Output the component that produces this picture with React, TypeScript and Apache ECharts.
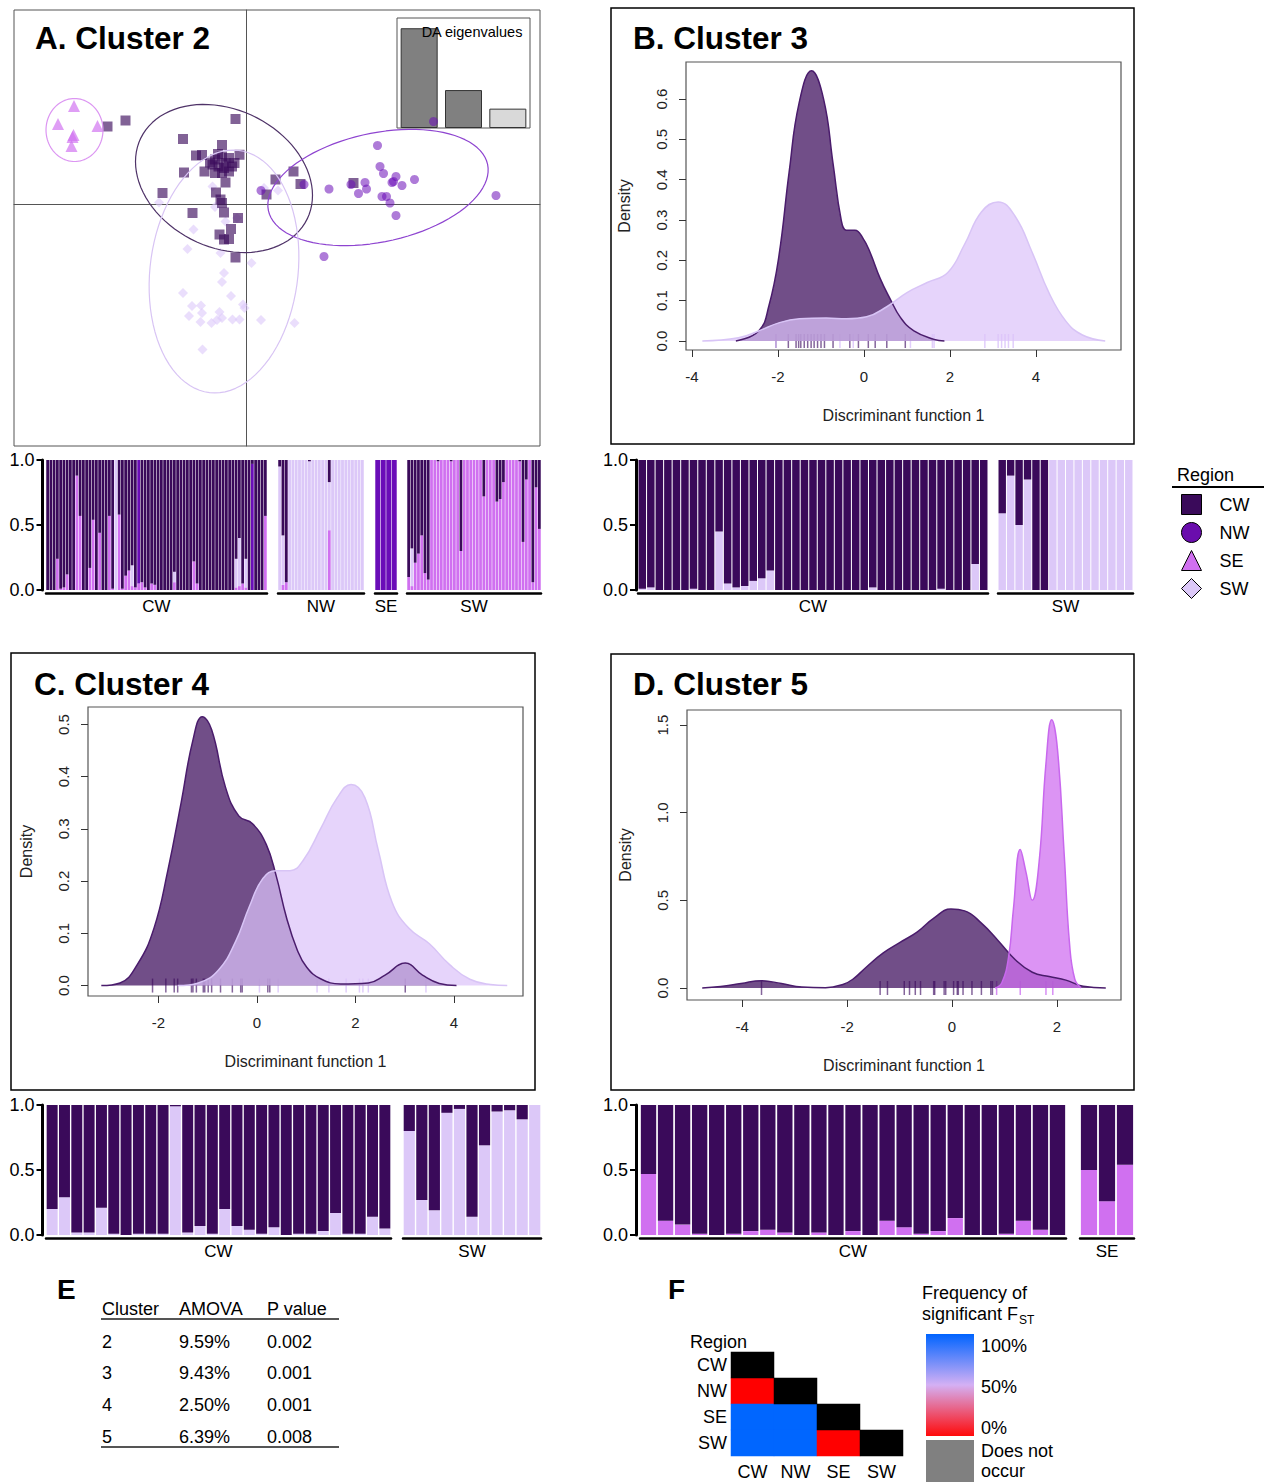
import React, { useEffect, useRef } from 'react';
import * as echarts from 'echarts';

const FONT = '"Liberation Sans", Arial, Helvetica, sans-serif';
const C_CW = '#3a0a5a';
const C_NW = '#6a0db8';
const C_SE = '#d070f0';
const C_SW = '#dcc8f8';

// ---------- Panel A: DAPC scatter (LD1, LD2) ----------
const aCW = [[-2.77,1.55],[-2.41,1.67],[-0.21,1.70],[-1.26,1.30],[-0.48,1.18],[-1.00,0.97],[-0.88,0.98],[-0.13,0.985],[-0.62,0.89],[-0.48,0.95],[-0.34,0.92],[-0.67,0.79],[-0.55,0.75],[-0.41,0.82],[-0.23,0.82],[-0.83,0.65],[-1.24,0.63],[-0.62,0.62],[-0.48,0.62],[-0.34,0.65],[-0.41,0.43],[-0.60,0.23],[-1.67,0.22],[-0.51,0.09],[-0.48,0.02],[-1.07,-0.18],[-0.44,-0.17],[-0.16,-0.28],[-0.30,-0.50],[-0.53,-0.61],[-0.44,-0.71],[-0.34,-0.70],[-0.21,-1.07],[0.59,0.49],[0.95,0.65],[1.09,0.40],[0.41,0.19],[2.15,0.42],[-0.72,0.83],[-0.28,0.75],[-0.56,1.0],[-0.44,0.72]];
const aNW = [[2.63,1.17],[2.68,0.75],[2.75,0.61],[3.00,0.55],[2.92,0.43],[3.12,0.37],[3.37,0.49],[2.38,0.43],[2.10,0.39],[2.41,0.30],[2.25,0.21],[1.66,0.30],[1.16,0.39],[0.30,0.27],[2.72,0.15],[2.81,0.15],[2.88,0.02],[3.00,-0.23],[1.56,-1.05],[5.00,0.17],[3.75,1.65],[2.95,0.45]];
const aSE = [[-3.44,1.96],[-3.76,1.60],[-2.97,1.56],[-3.45,1.38],[-3.47,1.34],[-3.49,1.16]];
const aSW = [[-1.74,0.03],[-0.67,0.35],[-0.62,-0.06],[-0.41,-0.35],[-1.05,-0.51],[-1.17,-0.90],[-0.51,-0.98],[0.11,-1.18],[-0.44,-1.38],[-0.48,-1.56],[0.64,0.27],[0.36,0.32],[-0.30,-1.84],[-1.26,-1.78],[-1.08,-2.04],[-0.90,-2.03],[-0.88,-2.18],[-0.06,-2.01],[-0.03,-2.08],[-0.53,-2.16],[-1.14,-2.24],[-0.48,-2.28],[-0.91,-2.36],[-0.69,-2.38],[-0.58,-2.32],[-0.27,-2.31],[-0.13,-2.31],[0.30,-2.32],[0.97,-2.38],[-0.87,-2.91],[-0.18,-0.28]];
// inertia ellipses: centre, semi-axes, rotation (deg)
const aEllipses = [
  { cx: -0.44, cy: 0.51, a: 1.85, b: 1.38, angle: -25.9, color: '#4f3368' },
  { cx: 2.64, cy: 0.33, a: 2.24, b: 1.09, angle: 11.9, color: '#8e44d0' },
  { cx: -3.43, cy: 1.48, a: 0.63, b: 0.57, angle: 90, color: '#dc96f2' },
  { cx: -0.44, cy: -1.35, a: 2.44, b: 1.48, angle: 83.2, color: '#d8c4f4' },
];
const daEigen = [52.6, 20.0, 10.2];

// ---------- Structure (membership) bars ----------
const aCWpink = [0,0,0,0.24,0.01,0.02,0.12,0,0,0.88, 0.57,0,0,0.17,0.54,0,0.44,0,0,0.57, 0.01,0,0.58,0.01,0.11,0.15,0.03,0.02,0.05,0.06, 0.02,0,0.05,0.04,0,0,0,0,0,0.06, 0,0,0,0,0,0.22,0.05,0,0,0, 0,0,0,0,0,0,0,0,0.02,0.03, 0.05,0.02,0,0,0,0,0,0.57];
const aCWlav = [0,0,0,0,0,0,0,0,0,0, 0,0,0,0,0,0,0,0,0,0, 0,1,0,0,0,0,0.16,0,0,0, 0,0,0,0,0,0,0,0,0,0.08, 0,0,0,0,0,0,0,0,0,0, 0,0,0,0,0,0,0,0,0.22,0.37, 0,0.22,0,0,0,0,0,0];
const aCWpur = [0,0,0,0,0,0,0,0,0,0, 0,0,0,0,0,0,0,0,0,0, 0,0,0,0,0,0,0,0,0.95,0, 0,0,0,0,0,0,0,0,0,0, 0,0,0,0,0,0,0,0,0,0, 0,0,0,0,0,0,0,0,0,0, 0,0,0,0.97,0,0,0,0];
const aNWpink = [0,0.04,0.06,0,0,0,0,0,0,0, 0,0,0,0,0,0.46,0,0,0,0, 0,0,0,0,0,0];
const aNWlav = [0.95,0.38,0,1,1,1,1,1,1,0.99, 1,1,1,1,1,0.37,1,1,1,1, 1,1,1,1,1,1];
const aSEpur = [1,1,1,1];
const aSWpink = [0.10,0.03,0.21,0.28,0.42,0.13,0.08,1,1,0.99, 1,1,1,0.99,1,1,0.30,1,1,1, 1,1,1,0.72,1,1,1,0.68,0.70,0.83, 1,1,1,1,0.99,0.37,0.85,1,0.06,0.79, 0.47];
const aSWlav = [0,0.29,0,0,0,0,0,0,0,0, 0,0,0,0,0,0,0,0,0,0, 0,0,0,0,0,0,0,0,0,0, 0,0,0,0,0,0,0,0,0,0, 0];
const bCWlav = [0.01,0.02,0,0,0,0,0.01,0,0,0.45, 0.05,0.02,0.03,0.07,0.09,0.15,0,0,0,0, 0,0,0,0,0,0,0,0.02,0,0, 0,0,0,0,0,0.01,0,0,0,0.20, 0];
const bSWlav = [0.59,0.88,0.50,0.85,0,0,1,1,1,1,1,1,1,1,1,1];
const cCWlav = [0.20,0.29,0.02,0.02,0.21,0.01,0,0.01,0.01,0.01,0.99,0.02,0.07,0.01,0.20,0.07,0.04,0.01,0.06,0,0.01,0.01,0.03,0.17,0.01,0.01,0.14,0.05];
const cSWlav = [0.80,0.27,0.19,0.94,0.97,0.14,0.69,0.95,0.96,0.89,1.0];
const dCWpink = [0.47,0.11,0.08,0.01,0,0.01,0.03,0.04,0.02,0,0.02,0,0.03,0,0.11,0.06,0.01,0.03,0.13,0,0,0.01,0.11,0.04,0];
const dSEpink = [0.50,0.26,0.54];

// ---------- Density curves (x, density) ----------
const bCW = [[-2.98,0],[-2.45,0.025],[-2.21,0.088],[-1.98,0.21],[-1.74,0.42],[-1.51,0.59],[-1.22,0.67],[-0.94,0.60],[-0.72,0.44],[-0.53,0.30],[-0.41,0.275],[-0.21,0.275],[-0.02,0.254],[0.14,0.22],[0.38,0.154],[0.61,0.104],[0.85,0.058],[1.16,0.025],[1.63,0.004],[1.87,0]];
const bSW = [[-3.76,0],[-2.92,0.008],[-2.45,0.025],[-1.98,0.045],[-1.5,0.055],[-0.88,0.057],[-0.41,0.055],[0.06,0.06],[0.53,0.085],[1.0,0.12],[1.47,0.145],[1.95,0.17],[2.34,0.24],[2.73,0.32],[3.12,0.345],[3.51,0.31],[3.91,0.22],[4.30,0.12],[4.69,0.05],[5.08,0.015],[5.61,0]];
const cCW = [[-3.16,0],[-2.78,0.005],[-2.43,0.04],[-2.09,0.11],[-1.81,0.22],[-1.54,0.35],[-1.30,0.47],[-1.11,0.515],[-0.92,0.49],[-0.64,0.38],[-0.37,0.325],[-0.09,0.31],[0.19,0.27],[0.39,0.21],[0.60,0.13],[0.81,0.07],[1.01,0.035],[1.29,0.013],[1.70,0.003],[2.26,0.005],[2.60,0.02],[3.01,0.043],[3.36,0.02],[3.70,0.004],[4.05,0]];
const cSW = [[-1.61,0],[-1.19,0.005],[-0.78,0.03],[-0.43,0.085],[-0.16,0.15],[0.12,0.205],[0.39,0.22],[0.67,0.22],[0.94,0.24],[1.29,0.30],[1.63,0.36],[1.91,0.385],[2.19,0.36],[2.46,0.26],[2.74,0.16],[3.08,0.11],[3.50,0.08],[3.91,0.04],[4.32,0.012],[4.74,0.002],[5.08,0]];
const dCW = [[-4.76,0],[-4.41,0.008],[-4.02,0.025],[-3.63,0.042],[-3.25,0.025],[-2.86,0.006],[-2.41,0.002],[-2.08,0.02],[-1.89,0.05],[-1.63,0.12],[-1.31,0.20],[-0.99,0.26],[-0.66,0.32],[-0.34,0.40],[-0.02,0.45],[0.24,0.44],[0.56,0.37],[0.88,0.27],[1.21,0.16],[1.53,0.09],[1.85,0.065],[2.17,0.045],[2.50,0.01],[2.93,0]];
const dSE = [[0.82,0],[0.95,0.03],[1.08,0.18],[1.17,0.45],[1.30,0.79],[1.41,0.66],[1.53,0.50],[1.66,0.72],[1.79,1.28],[1.90,1.53],[2.01,1.36],[2.14,0.75],[2.24,0.25],[2.34,0.05],[2.46,0]];
const bRugCW = [-2.05,-1.76,-1.58,-1.52,-1.47,-1.39,-1.31,-1.23,-1.16,-1.08,-1.0,-0.92,-0.72,-0.33,-0.13,0.1,0.26,0.53,0.96];
const bRugSW = [-2.05,-0.56,-0.25,1.08,1.59,1.63,2.81,3.12,3.2,3.28,3.36,3.47];
const cRugCW = [-2.12,-1.85,-1.68,-1.61,-1.33,-1.30,-1.23,-1.09,-1.06,-0.99,-0.92,-0.74,-0.50,-0.33,-0.30,0.22,0.26,3.01];
const cRugSW = [0.05,0.43,1.22,1.46,1.81,2.08,2.15,2.26,3.43];
const dRugCW = [-3.63,-1.37,-1.23,-0.91,-0.81,-0.70,-0.60,-0.35,-0.33,-0.15,-0.12,0.03,0.10,0.12,0.21,0.38,0.56,0.74,0.77];
const dRugSE = [0.85,1.30,1.79,1.92];
const bXTicks = [-4,-2,0,2,4];
const bYTicks = [0,0.1,0.2,0.3,0.4,0.5,0.6];
const cXTicks = [-2,0,2,4];
const cYTicks = [0,0.1,0.2,0.3,0.4,0.5];
const dXTicks = [-4,-2,0,2];
const dYTicks = [0,0.5,1.0,1.5];

// ---------- E table ----------
const eHeaders = ['Cluster','AMOVA','P value'];
const eCluster = ['2','3','4','5'];
const eAmova = ['9.59%','9.43%','2.50%','6.39%'];
const eP = ['0.002','0.001','0.001','0.008'];

// ---------- F heatmap ----------
const fRegions = ['CW','NW','SE','SW'];
const fPairs: [string,string,number][] = [['NW','CW',0],['SE','CW',1],['SE','NW',1],['SW','CW',1],['SW','NW',1],['SW','SE',0]];
const fLegendTicks = ['100%','50%','0%'];
const legendRegions = ['CW','NW','SE','SW'];

function ellipsePoints(e: any) {
  const pts: number[][] = [];
  const t = (e.angle * Math.PI) / 180;
  for (let k = 0; k <= 90; k++) {
    const u = (k / 90) * 2 * Math.PI;
    const x = e.a * Math.cos(u), y = e.b * Math.sin(u);
    pts.push([e.cx + x * Math.cos(t) - y * Math.sin(t), e.cy + x * Math.sin(t) + y * Math.cos(t)]);
  }
  return pts;
}

function buildOption() {
  const grid: any[] = [], xAxis: any[] = [], yAxis: any[] = [], series: any[] = [], graphic: any[] = [];
  const add = (g: any, xa: any, ya: any) => {
    grid.push(g);
    const i = grid.length - 1;
    xAxis.push({ ...xa, gridIndex: i });
    yAxis.push({ ...ya, gridIndex: i });
    return i;
  };
  const txt = (text: string, x: number, y: number, size: number, o: any = {}) => ({
    type: 'text', x, y, silent: true, z: o.z || 10,
    style: { text, fontSize: size, fontFamily: FONT, fill: o.fill || '#000', fontWeight: o.bold ? 'bold' : 'normal',
      textAlign: o.align || 'left', align: o.align || 'left', textVerticalAlign: 'middle', verticalAlign: 'middle' },
  });
  const hidden = { axisLine: { show: false }, axisTick: { show: false }, axisLabel: { show: false }, splitLine: { show: false } };

  // ---- Panel A scatter ----
  const crossAxis = { type: 'value', axisLine: { show: true, onZero: true, lineStyle: { color: '#555', width: 1 } }, axisTick: { show: false }, axisLabel: { show: false }, splitLine: { show: false } };
  const gA = add({ left: 14, top: 10, width: 526, height: 436, show: true, borderColor: '#555', borderWidth: 1 },
    { ...crossAxis, min: -4.64, max: 5.88 }, { ...crossAxis, min: -4.84, max: 3.88 });
  aEllipses.forEach((e, k) => series.push({ type: 'line', name: 'ell' + k, xAxisIndex: gA, yAxisIndex: gA, data: ellipsePoints(e), symbol: 'none', smooth: false, lineStyle: { color: e.color, width: 1.2 }, silent: true }));
  series.push({ type: 'scatter', name: 'SW', xAxisIndex: gA, yAxisIndex: gA, data: aSW, symbol: 'diamond', symbolSize: 10, itemStyle: { color: 'rgba(220,200,250,0.75)' } });
  series.push({ type: 'scatter', name: 'CW', xAxisIndex: gA, yAxisIndex: gA, data: aCW, symbol: 'rect', symbolSize: 10, itemStyle: { color: 'rgba(58,10,90,0.8)' } });
  series.push({ type: 'scatter', name: 'NW', xAxisIndex: gA, yAxisIndex: gA, data: aNW, symbol: 'circle', symbolSize: 9, itemStyle: { color: 'rgba(106,13,184,0.68)' } });
  series.push({ type: 'scatter', name: 'SE', xAxisIndex: gA, yAxisIndex: gA, data: aSE, symbol: 'triangle', symbolSize: 12, itemStyle: { color: 'rgba(208,112,240,0.85)' } });

  // inset eigenvalues
  const gI = add({ left: 397, top: 18, width: 133, height: 110, show: true, borderColor: '#555', borderWidth: 1 },
    { type: 'category', data: ['1','2','3'], ...hidden }, { type: 'value', min: 0, max: 58, ...hidden });
  series.push({ type: 'bar', name: 'eig', xAxisIndex: gI, yAxisIndex: gI, barWidth: 37, silent: true,
    data: daEigen.map((v, k) => ({ value: v, itemStyle: { color: k < 2 ? '#808080' : '#d9d9d9', borderColor: '#333', borderWidth: 1 } })) });
  graphic.push(txt('DA eigenvalues', 472, 32, 14.5, { align: 'center', z: 100 }));

  // ---- Structure groups ----
  const group = (left: number, right: number, top: number, bottom: number, label: string, layers: any[], showY: boolean, gap: string, axisX: number) => {
    const n = layers[0].data.length;
    const dark = Array.from({ length: n }, (_, k) => Math.max(0, 1 - layers.reduce((s: number, l: any) => s + l.data[k], 0)));
    const gi = add({ left, top, width: right - left, height: bottom - top },
      { type: 'category', data: Array.from({ length: n }, (_, k) => String(k + 1)), offset: 3,
        axisLine: { show: true, onZero: false, lineStyle: { color: '#000', width: 2.5 } }, axisTick: { show: false }, axisLabel: { show: false }, splitLine: { show: false },
        name: label, nameLocation: 'middle', nameGap: 5, nameTextStyle: { fontSize: 17, color: '#000', fontFamily: FONT, verticalAlign: 'top' } },
      { type: 'value', min: 0, max: 1, interval: 0.5, show: showY, offset: left - axisX,
        axisLine: { show: true, onZero: false, lineStyle: { color: '#000', width: 3 } }, axisTick: { show: true, length: 6, lineStyle: { color: '#000', width: 2 } },
        axisLabel: { fontSize: 18, color: '#000', margin: 8, fontFamily: FONT, formatter: (v: number) => v.toFixed(1) }, splitLine: { show: false } });
    [...layers, { data: dark, color: C_CW }].forEach((l: any, k: number) => series.push({
      type: 'bar', name: 'st' + gi + '_' + k, xAxisIndex: gi, yAxisIndex: gi, stack: 'st' + gi, data: l.data,
      barCategoryGap: gap, itemStyle: { color: l.color }, silent: true }));
  };
  group(46, 267, 460, 590, 'CW', [{ data: aCWpink, color: C_SE }, { data: aCWlav, color: C_SW }, { data: aCWpur, color: C_NW }], true, '16%', 42.5);
  group(278, 364, 460, 590, 'NW', [{ data: aNWpink, color: C_SE }, { data: aNWlav, color: C_SW }], false, '14%', 0);
  group(375, 397, 460, 590, 'SE', [{ data: aSEpur, color: C_NW }], false, '10%', 0);
  group(407, 541, 460, 590, 'SW', [{ data: aSWpink, color: C_SE }, { data: aSWlav, color: C_SW }], false, '16%', 0);
  group(638, 988, 460, 590, 'CW', [{ data: bCWlav, color: C_SW }], true, '12%', 636);
  group(998, 1133, 460, 590, 'SW', [{ data: bSWlav, color: C_SW }], false, '12%', 0);
  group(46, 391, 1105, 1235, 'CW', [{ data: cCWlav, color: C_SW }], true, '11%', 42.5);
  group(403, 541, 1105, 1235, 'SW', [{ data: cSWlav, color: C_SW }], false, '11%', 0);
  group(640, 1066, 1105, 1235, 'CW', [{ data: dCWpink, color: C_SE }], true, '10%', 636);
  group(1080, 1134, 1105, 1235, 'SE', [{ data: dSEpink, color: C_SE }], false, '10%', 0);

  // ---- Density panels ----
  const density = (p: any) => {
    const tickStyle = { color: '#333', width: 1 };
    const gi = add({ left: p.left, top: p.top, width: p.w, height: p.h, show: true, borderColor: '#555', borderWidth: 1.2 },
      { type: 'value', min: p.xmin, max: p.xmax, axisLine: { show: false, onZero: false },
        axisTick: { show: true, length: 7, customValues: p.xticks, lineStyle: tickStyle },
        axisLabel: { customValues: p.xticks, fontSize: 15, color: '#222', margin: 19, fontFamily: FONT, formatter: (v: number) => String(v) },
        splitLine: { show: false }, name: 'Discriminant function 1', nameLocation: 'middle', nameGap: 57,
        nameTextStyle: { fontSize: 16, color: '#222', fontFamily: FONT } },
      { type: 'value', min: p.ymin, max: p.ymax, axisLine: { show: false, onZero: false },
        axisTick: { show: true, length: 7, customValues: p.yticks, lineStyle: tickStyle },
        axisLabel: { customValues: p.yticks, rotate: 90, fontSize: 15, color: '#222', margin: 17, fontFamily: FONT, formatter: (v: number) => v.toFixed(1) },
        splitLine: { show: false }, name: 'Density', nameLocation: 'middle', nameGap: 54, nameRotate: 90,
        nameTextStyle: { fontSize: 16, color: '#222', fontFamily: FONT } });
    p.curves.forEach((c: any, k: number) => series.push({ type: 'line', name: 'd' + gi + '_' + k, xAxisIndex: gi, yAxisIndex: gi, data: c.data,
      smooth: 0.45, symbol: 'none', silent: true, lineStyle: { color: c.line, width: 1.5 }, areaStyle: { color: c.fill, opacity: 1 } }));
    p.rugs.forEach((r: any, k: number) => series.push({ type: 'scatter', name: 'r' + gi + '_' + k, xAxisIndex: gi, yAxisIndex: gi,
      data: r.data.map((x: number) => [x, 0]), symbol: 'rect', symbolSize: [1.5, 14], itemStyle: { color: r.color }, silent: true }));
  };
  const fCW = { line: '#4a1c6c', fill: 'rgba(58,10,90,0.72)' };
  const fSW = { line: '#d8c4f6', fill: 'rgba(220,196,250,0.72)' };
  const fSE = { line: '#c868ee', fill: 'rgba(208,112,240,0.75)' };
  const rCW = 'rgba(74,28,108,0.85)', rSW = 'rgba(215,190,250,0.95)', rSE = 'rgba(200,100,240,0.9)';
  density({ left: 686, top: 62, w: 435, h: 288, xmin: -4.14, xmax: 5.977, ymin: -0.0223, ymax: 0.692, xticks: bXTicks, yticks: bYTicks,
    curves: [{ data: bCW, ...fCW }, { data: bSW, ...fSW }], rugs: [{ data: bRugCW, color: rCW }, { data: bRugSW, color: rSW }] });
  density({ left: 88, top: 707, w: 435, h: 289, xmin: -3.43, xmax: 5.40, ymin: -0.020, ymax: 0.5335, xticks: cXTicks, yticks: cYTicks,
    curves: [{ data: cCW, ...fCW }, { data: cSW, ...fSW }], rugs: [{ data: cRugCW, color: rCW }, { data: cRugSW, color: rSW }] });
  density({ left: 687, top: 710, w: 434, h: 290, xmin: -5.05, xmax: 3.22, ymin: -0.0685, ymax: 1.586, xticks: dXTicks, yticks: dYTicks,
    curves: [{ data: dCW, ...fCW }, { data: dSE, ...fSE }], rugs: [{ data: dRugCW, color: rCW }, { data: dRugSE, color: rSE }] });

  // ---- F heatmap ----
  const gF = add({ left: 731, top: 1352, width: 172, height: 104 },
    { type: 'category', data: fRegions, axisLine: { show: false }, axisTick: { show: false }, splitLine: { show: false },
      axisLabel: { fontSize: 18, color: '#000', margin: 7, fontFamily: FONT } },
    { type: 'category', data: fRegions, inverse: true, axisLine: { show: false }, axisTick: { show: false }, splitLine: { show: false },
      axisLabel: { fontSize: 18, color: '#000', margin: 4, fontFamily: FONT } });
  const heatIdx = series.length;
  series.push({ type: 'heatmap', name: 'fst', xAxisIndex: gF, yAxisIndex: gF, silent: true,
    data: fPairs.map(([r, c, v]) => [fRegions.indexOf(c), fRegions.indexOf(r), v]) });
  const diagIdx = series.length;
  series.push({ type: 'heatmap', name: 'self', xAxisIndex: gF, yAxisIndex: gF, silent: true,
    data: fRegions.map((_, k) => [k, k, 0]) });

  // ---- graphic: titles, frames, legend, table ----
  graphic.push({ type: 'rect', shape: { x: 611, y: 8, width: 523, height: 436 }, style: { fill: 'none', stroke: '#000', lineWidth: 1.5 }, silent: true });
  graphic.push({ type: 'rect', shape: { x: 11, y: 653, width: 524, height: 437 }, style: { fill: 'none', stroke: '#000', lineWidth: 1.5 }, silent: true });
  graphic.push({ type: 'rect', shape: { x: 611, y: 654, width: 523, height: 436 }, style: { fill: 'none', stroke: '#000', lineWidth: 1.5 }, silent: true });
  graphic.push(txt('A. Cluster 2', 35, 38, 31.5, { bold: true }));
  graphic.push(txt('B. Cluster 3', 633, 38, 31.5, { bold: true }));
  graphic.push(txt('C. Cluster 4', 34, 684, 31.5, { bold: true }));
  graphic.push(txt('D. Cluster 5', 633, 684, 31.5, { bold: true }));

  graphic.push(txt('Region', 1177, 475, 18));
  graphic.push({ type: 'line', shape: { x1: 1172, y1: 487, x2: 1264, y2: 487 }, style: { stroke: '#000', lineWidth: 2 }, silent: true });

  graphic.push(txt('E', 57, 1289, 28, { bold: true }));
  const eCols = [102, 179, 267];
  eHeaders.forEach((h, k) => graphic.push(txt(h, eCols[k], 1309, 18)));
  graphic.push({ type: 'line', shape: { x1: 101, y1: 1319, x2: 339, y2: 1319 }, style: { stroke: '#555', lineWidth: 2 }, silent: true });
  const eRowsY = [1342, 1373, 1405, 1437];
  eCluster.forEach((c, k) => {
    graphic.push(txt(c, eCols[0], eRowsY[k], 18));
    graphic.push(txt(eAmova[k], eCols[1], eRowsY[k], 18));
    graphic.push(txt(eP[k], eCols[2], eRowsY[k], 18));
  });
  graphic.push({ type: 'line', shape: { x1: 101, y1: 1447, x2: 339, y2: 1447 }, style: { stroke: '#555', lineWidth: 2 }, silent: true });

  graphic.push(txt('F', 668, 1289, 28, { bold: true }));
  graphic.push(txt('Region', 690, 1342, 18));
  graphic.push(txt('Frequency of', 922, 1293, 18));
  graphic.push(txt('significant F', 922, 1314, 18));
  graphic.push(txt('ST', 1019, 1320, 12));
  graphic.push({ type: 'rect', shape: { x: 926, y: 1334, width: 48, height: 102 }, silent: true,
    style: { fill: new echarts.graphic.LinearGradient(0, 0, 0, 1, [{ offset: 0, color: '#0064ff' }, { offset: 0.5, color: '#d4b0f4' }, { offset: 1, color: '#ff0a0a' }]) } });
  graphic.push({ type: 'rect', shape: { x: 926, y: 1440, width: 48, height: 42 }, style: { fill: '#808080' }, silent: true });
  const fTickY = [1346, 1387, 1428];
  fLegendTicks.forEach((t, k) => graphic.push(txt(t, 981, fTickY[k], 18)));
  graphic.push(txt('Does not', 981, 1451, 18));
  graphic.push(txt('occur', 981, 1471, 18));

  const legendColors: any = { CW: C_CW, NW: '#6a0dad', SE: C_SE, SW: C_SW };
  const legendIcons: any = { CW: 'rect', NW: 'circle', SE: 'triangle', SW: 'diamond' };

  return {
    animation: false,
    backgroundColor: '#fff',
    textStyle: { fontFamily: FONT },
    grid, xAxis, yAxis, series, graphic,
    legend: {
      left: 1181, top: 494, padding: 0, orient: 'vertical', itemWidth: 20, itemHeight: 20, itemGap: 7, selectedMode: false,
      textStyle: { fontSize: 18, color: '#000', fontFamily: FONT, padding: [0, 0, 0, 13] },
      data: legendRegions.map((r) => ({ name: r, icon: legendIcons[r], itemStyle: { color: legendColors[r], borderColor: '#000', borderWidth: 1, opacity: 1 } })),
    },
    visualMap: [
      { show: false, seriesIndex: heatIdx, min: 0, max: 1, inRange: { color: ['#ff0000', '#d4b0f4', '#0066ff'] } },
      { show: false, seriesIndex: diagIdx, min: 0, max: 1, inRange: { color: ['#000000', '#000000'] } },
    ],
  };
}

export default function App() {
  const ref = useRef<HTMLDivElement>(null);
  useEffect(() => {
    const chart = echarts.init(ref.current as HTMLDivElement, null, { renderer: 'svg' });
    chart.setOption(buildOption() as any);
    return () => chart.dispose();
  }, []);
  return <div ref={ref} style={{ position: 'absolute', left: 0, top: 0, width: 1264, height: 1482, background: '#fff' }} />;
}
